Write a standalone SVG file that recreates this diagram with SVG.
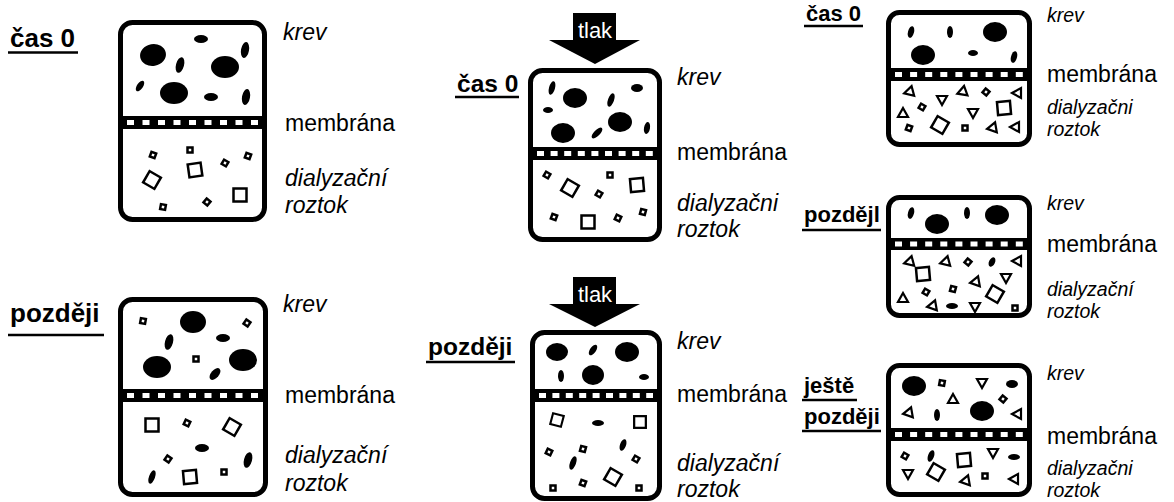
<svg xmlns="http://www.w3.org/2000/svg" xmlns:xlink="http://www.w3.org/1999/xlink" width="1174" height="502" viewBox="0 0 1174 502">
  <style>
    .box { fill: none; stroke: #000; stroke-width: 5; }
    .band { fill: #000; }
    .pores { stroke: #fff; stroke-width: 5; fill: none; }
    .cell { fill: #000; }
    .sol { fill: none; stroke: #000; stroke-width: 2.5; }
    .tri { fill: none; stroke: #000; stroke-width: 2.2; stroke-linejoin: miter; }
    .lbl { font-family: "Liberation Sans", Arial, sans-serif; font-size: 23px; fill: #000; }
    .it { font-style: italic; }
    .sm { font-size: 19.5px; }
    .hd { font-family: "Liberation Sans", Arial, sans-serif; font-size: 26px; font-weight: bold; fill: #000; }
    .hd2 { font-size: 24.5px; }
    .hd3 { font-size: 22px; }
    .ul { stroke: #000; stroke-width: 2.5; }
    .arrow { fill: #000; }
    .press { font-family: "Liberation Sans", Arial, sans-serif; font-size: 22px; fill: #fff; text-anchor: middle; }
  </style>
  <defs>
    <rect id="s" x="-2.5" y="-2.5" width="5" height="5"/>
    <rect id="m" x="-6.5" y="-6.5" width="13" height="13"/>
    <path id="t" d="M-5,0 L4,-5 L4,5 Z"/>
  </defs>

  <!-- top left: time 0, diffusion -->
  <g id="panel-diffusion-t0">
    <text class="hd" x="10" y="47">čas 0</text>
    <line class="ul" x1="8" y1="52.5" x2="78" y2="52.5"/>
    <rect class="box" x="120.5" y="22.5" width="144" height="197" rx="12"/>
    <rect class="band" x="120.5" y="116" width="144" height="13"/>
    <line class="pores" x1="127" y1="122.5" x2="258" y2="122.5" stroke-dasharray="7 8.5"/>
    <g class="cell">
      <ellipse cx="153" cy="55" rx="13" ry="11" transform="rotate(-10 153 55)"/>
      <ellipse cx="201" cy="39" rx="7" ry="4"/>
      <ellipse cx="180" cy="65" rx="4" ry="8" transform="rotate(15 180 65)"/>
      <ellipse cx="245" cy="50" rx="4" ry="8" transform="rotate(10 245 50)"/>
      <ellipse cx="225" cy="67" rx="14" ry="11"/>
      <ellipse cx="140" cy="86" rx="3" ry="6" transform="rotate(35 140 86)"/>
      <ellipse cx="174" cy="93" rx="14" ry="11"/>
      <ellipse cx="211" cy="97" rx="7" ry="4"/>
      <ellipse cx="246" cy="97" rx="4" ry="8" transform="rotate(10 246 97)"/>
    </g>
    <g class="sol">
      <use xlink:href="#s" transform="translate(190 150)"/>
      <use xlink:href="#s" transform="translate(153 155) rotate(20)"/>
      <use xlink:href="#s" transform="translate(248 156) rotate(20)"/>
      <use xlink:href="#m" transform="translate(195 170) rotate(-8)"/>
      <use xlink:href="#s" transform="translate(225 163) rotate(30)"/>
      <use xlink:href="#m" transform="translate(152 180) rotate(30)"/>
      <use xlink:href="#m" transform="translate(240 195)"/>
      <use xlink:href="#s" transform="translate(163 207) rotate(10)"/>
      <use xlink:href="#s" transform="translate(207 202) rotate(40)"/>
    </g>
    <text class="lbl it" x="283" y="40">krev</text>
    <text class="lbl" x="285" y="131">membrána</text>
    <text class="lbl it" x="285" y="186">dialyzační</text>
    <text class="lbl it" x="285" y="213">roztok</text>
  </g>

  <!-- bottom left: later, diffusion -->
  <g id="panel-diffusion-later">
    <text class="hd" x="10" y="322">později</text>
    <line class="ul" x1="8" y1="335" x2="104" y2="335"/>
    <rect class="box" x="120.5" y="299.5" width="145" height="195" rx="12"/>
    <rect class="band" x="120.5" y="389" width="145" height="13"/>
    <line class="pores" x1="127" y1="395.5" x2="258" y2="395.5" stroke-dasharray="7 8.5"/>
    <g class="cell">
      <ellipse cx="193" cy="322" rx="13" ry="11"/>
      <ellipse cx="169" cy="342" rx="4" ry="8" transform="rotate(15 169 342)"/>
      <ellipse cx="223" cy="338" rx="7" ry="4"/>
      <ellipse cx="157" cy="367" rx="14" ry="11"/>
      <ellipse cx="243" cy="360" rx="14" ry="11"/>
      <ellipse cx="215" cy="374" rx="4" ry="7" transform="rotate(40 215 374)"/>
      <ellipse cx="202" cy="448" rx="7" ry="4"/>
      <ellipse cx="248" cy="460" rx="4" ry="8" transform="rotate(15 248 460)"/>
      <ellipse cx="152" cy="477" rx="3" ry="7" transform="rotate(20 152 477)"/>
    </g>
    <g class="sol">
      <use xlink:href="#s" transform="translate(143 321) rotate(10)"/>
      <use xlink:href="#s" transform="translate(247 323) rotate(35)"/>
      <use xlink:href="#s" transform="translate(196 359)"/>
      <use xlink:href="#m" transform="translate(152 425)"/>
      <use xlink:href="#s" transform="translate(187 423) rotate(25)"/>
      <use xlink:href="#m" transform="translate(232 427) rotate(30)"/>
      <use xlink:href="#s" transform="translate(168 459) rotate(35)"/>
      <use xlink:href="#m" transform="translate(190 477) rotate(-5)"/>
      <use xlink:href="#s" transform="translate(224 472)"/>
    </g>
    <text class="lbl it" x="283" y="312">krev</text>
    <text class="lbl" x="285" y="403">membrána</text>
    <text class="lbl it" x="285" y="463">dialyzační</text>
    <text class="lbl it" x="285" y="491">roztok</text>
  </g>

  <!-- top middle: time 0, filtration under pressure -->
  <g id="panel-filtration-t0">
    <path class="arrow" d="M573,13 H616 V40 H640 L595,64 L549,40 H573 Z"/>
    <text class="press" x="595" y="38">tlak</text>
    <text class="hd hd2" x="457" y="92">čas 0</text>
    <line class="ul" x1="455" y1="97" x2="519" y2="97"/>
    <rect class="box" x="530.5" y="70.5" width="129" height="169" rx="12"/>
    <rect class="band" x="530.5" y="147" width="129" height="13"/>
    <line class="pores" x1="537" y1="153.5" x2="653" y2="153.5" stroke-dasharray="7 6.6"/>
    <g class="cell">
      <ellipse cx="552" cy="88" rx="3" ry="7" transform="rotate(15 552 88)"/>
      <ellipse cx="575" cy="98" rx="12" ry="10"/>
      <ellipse cx="611" cy="100" rx="3" ry="7" transform="rotate(20 611 100)"/>
      <ellipse cx="637" cy="88" rx="6" ry="4"/>
      <ellipse cx="548" cy="110" rx="5" ry="3"/>
      <ellipse cx="620" cy="122" rx="12" ry="10"/>
      <ellipse cx="563" cy="133" rx="12" ry="10"/>
      <ellipse cx="597" cy="133" rx="3" ry="7" transform="rotate(45 597 133)"/>
      <ellipse cx="647" cy="128" rx="3" ry="6" transform="rotate(10 647 128)"/>
    </g>
    <g class="sol">
      <use xlink:href="#s" transform="translate(547 175) rotate(30)"/>
      <use xlink:href="#m" transform="translate(570 188) rotate(30)"/>
      <use xlink:href="#s" transform="translate(610 175)"/>
      <use xlink:href="#m" transform="translate(637 185) rotate(-5)"/>
      <use xlink:href="#s" transform="translate(599 194) rotate(30)"/>
      <use xlink:href="#s" transform="translate(554 217) rotate(20)"/>
      <use xlink:href="#m" transform="translate(588 222)"/>
      <use xlink:href="#s" transform="translate(618 218) rotate(25)"/>
      <use xlink:href="#s" transform="translate(643 212) rotate(15)"/>
    </g>
    <text class="lbl it" x="677" y="85">krev</text>
    <text class="lbl" x="677" y="160">membrána</text>
    <text class="lbl it" x="677" y="211">dialyzačni</text>
    <text class="lbl it" x="677" y="237">roztok</text>
  </g>

  <!-- bottom middle: later, filtration under pressure -->
  <g id="panel-filtration-later">
    <path class="arrow" d="M573,277 H616 V304 H640 L595,327 L549,304 H573 Z"/>
    <text class="press" x="595" y="302">tlak</text>
    <text class="hd hd2" x="428" y="355">později</text>
    <line class="ul" x1="426" y1="362" x2="515" y2="362"/>
    <rect class="box" x="532.5" y="332.5" width="127" height="166" rx="12"/>
    <rect class="band" x="532.5" y="389" width="127" height="13"/>
    <line class="pores" x1="539" y1="395.5" x2="653" y2="395.5" stroke-dasharray="7 6.4"/>
    <g class="cell">
      <ellipse cx="557" cy="352" rx="11" ry="9"/>
      <ellipse cx="593" cy="350" rx="3" ry="6" transform="rotate(35 593 350)"/>
      <ellipse cx="627" cy="352" rx="12" ry="10"/>
      <ellipse cx="561" cy="376" rx="3" ry="6"/>
      <ellipse cx="593" cy="375" rx="11" ry="10"/>
      <ellipse cx="644" cy="377" rx="5" ry="3"/>
      <ellipse cx="598" cy="423" rx="6" ry="3"/>
      <ellipse cx="623" cy="445" rx="3" ry="6" transform="rotate(20 623 445)"/>
      <ellipse cx="573" cy="463" rx="3" ry="7" transform="rotate(20 573 463)"/>
    </g>
    <g class="sol">
      <use xlink:href="#m" transform="translate(557 420) rotate(15) scale(0.85)"/>
      <use xlink:href="#m" transform="translate(640 422) scale(0.9)"/>
      <use xlink:href="#s" transform="translate(549 452) rotate(25)"/>
      <use xlink:href="#s" transform="translate(583 449) rotate(15)"/>
      <use xlink:href="#s" transform="translate(636 459) rotate(30)"/>
      <use xlink:href="#m" transform="translate(613 477) rotate(30)"/>
      <use xlink:href="#s" transform="translate(553 488)"/>
      <use xlink:href="#s" transform="translate(583 483) rotate(20)"/>
      <use xlink:href="#s" transform="translate(639 488)"/>
    </g>
    <text class="lbl it" x="677" y="349">krev</text>
    <text class="lbl" x="677" y="402">membrána</text>
    <text class="lbl it" x="677" y="471">dialyzační</text>
    <text class="lbl it" x="677" y="497">roztok</text>
  </g>

  <!-- top right: time 0, two solutes -->
  <g id="panel-mixed-t0">
    <text class="hd hd3" x="806" y="21">čas 0</text>
    <line class="ul" x1="804" y1="26" x2="863" y2="26"/>
    <rect class="box" x="888.5" y="12.5" width="141" height="132" rx="11"/>
    <rect class="band" x="888.5" y="68" width="141" height="13"/>
    <line class="pores" x1="895" y1="74.5" x2="1023" y2="74.5" stroke-dasharray="7 8.1"/>
    <g class="cell">
      <ellipse cx="911" cy="32" rx="3" ry="6" transform="rotate(15 911 32)"/>
      <ellipse cx="950" cy="32" rx="3" ry="6"/>
      <ellipse cx="995" cy="32" rx="12" ry="10"/>
      <ellipse cx="923" cy="55" rx="12" ry="10"/>
      <ellipse cx="973" cy="53" rx="5" ry="3"/>
      <ellipse cx="1014" cy="57" rx="3" ry="6" transform="rotate(15 1014 57)"/>
    </g>
    <g class="tri">
      <use xlink:href="#t" transform="translate(909 92) rotate(-15)"/>
      <use xlink:href="#t" transform="translate(942 100) rotate(-90)"/>
      <use xlink:href="#t" transform="translate(962 92) rotate(-20)"/>
      <use xlink:href="#t" transform="translate(1017 93)"/>
      <use xlink:href="#t" transform="translate(903 113) rotate(90)"/>
      <use xlink:href="#t" transform="translate(973 113) rotate(-90)"/>
      <use xlink:href="#t" transform="translate(992 128) rotate(-10)"/>
      <use xlink:href="#t" transform="translate(1015 127)"/>
    </g>
    <g class="sol">
      <use xlink:href="#s" transform="translate(986 92) rotate(40)"/>
      <use xlink:href="#s" transform="translate(922 107) rotate(30)"/>
      <use xlink:href="#m" transform="translate(1004 108) rotate(-5)"/>
      <use xlink:href="#m" transform="translate(940 125) rotate(30)"/>
      <use xlink:href="#s" transform="translate(909 128) rotate(20)"/>
      <use xlink:href="#s" transform="translate(965 128)"/>
    </g>
    <text class="lbl it sm" x="1047" y="22">krev</text>
    <text class="lbl" x="1047" y="82">membrána</text>
    <text class="lbl it sm" x="1047" y="114">dialyzačni</text>
    <text class="lbl it sm" x="1047" y="136">roztok</text>
  </g>

  <!-- middle right: later, two solutes -->
  <g id="panel-mixed-later">
    <text class="hd hd3" x="804" y="222">pozdějl</text>
    <line class="ul" x1="802" y1="230" x2="881" y2="230"/>
    <rect class="box" x="888.5" y="197.5" width="141" height="118" rx="11"/>
    <rect class="band" x="888.5" y="238" width="141" height="12"/>
    <line class="pores" x1="895" y1="244" x2="1023" y2="244" stroke-dasharray="7 8.1"/>
    <g class="cell">
      <ellipse cx="911" cy="213" rx="3" ry="6" transform="rotate(15 911 213)"/>
      <ellipse cx="937" cy="224" rx="12" ry="10"/>
      <ellipse cx="967" cy="213" rx="3" ry="6"/>
      <ellipse cx="997" cy="215" rx="12" ry="10"/>
      <ellipse cx="992" cy="262" rx="3" ry="5" transform="rotate(25 992 262)"/>
      <ellipse cx="952" cy="306" rx="6" ry="3"/>
    </g>
    <g class="tri">
      <use xlink:href="#t" transform="translate(909 262) rotate(-15)"/>
      <use xlink:href="#t" transform="translate(945 262) rotate(-15)"/>
      <use xlink:href="#t" transform="translate(1017 261)"/>
      <use xlink:href="#t" transform="translate(1006 278) rotate(-90)"/>
      <use xlink:href="#t" transform="translate(975 282) rotate(-10)"/>
      <use xlink:href="#t" transform="translate(903 298) rotate(90)"/>
      <use xlink:href="#t" transform="translate(932 306) rotate(-10)"/>
      <use xlink:href="#t" transform="translate(975 307) rotate(-90)"/>
    </g>
    <g class="sol">
      <use xlink:href="#s" transform="translate(968 262) rotate(40)"/>
      <use xlink:href="#m" transform="translate(923 274) rotate(-5)"/>
      <use xlink:href="#s" transform="translate(926 292) rotate(30)"/>
      <use xlink:href="#s" transform="translate(953 289) rotate(15)"/>
      <use xlink:href="#m" transform="translate(995 294) rotate(30)"/>
      <use xlink:href="#s" transform="translate(1015 308)"/>
    </g>
    <text class="lbl it sm" x="1047" y="210">krev</text>
    <text class="lbl" x="1047" y="252">membrána</text>
    <text class="lbl it sm" x="1047" y="296">dialyzační</text>
    <text class="lbl it sm" x="1047" y="318">roztok</text>
  </g>

  <!-- bottom right: even later, two solutes -->
  <g id="panel-mixed-latest">
    <text class="hd hd3" x="804" y="393">ještě</text>
    <line class="ul" x1="802" y1="400" x2="857" y2="400"/>
    <text class="hd hd3" x="804" y="424">později</text>
    <line class="ul" x1="802" y1="431" x2="881" y2="431"/>
    <rect class="box" x="888.5" y="365.5" width="141" height="129" rx="11"/>
    <rect class="band" x="888.5" y="428" width="141" height="13"/>
    <line class="pores" x1="895" y1="434.5" x2="1023" y2="434.5" stroke-dasharray="7 8.1"/>
    <g class="cell">
      <ellipse cx="914" cy="386" rx="12" ry="10"/>
      <ellipse cx="1012" cy="384" rx="6" ry="4"/>
      <ellipse cx="937" cy="415" rx="3" ry="6"/>
      <ellipse cx="982" cy="411" rx="12" ry="10"/>
      <ellipse cx="931" cy="456" rx="3" ry="6" transform="rotate(20 931 456)"/>
      <ellipse cx="1014" cy="457" rx="6" ry="3"/>
    </g>
    <g class="tri">
      <use xlink:href="#t" transform="translate(982 383) rotate(-90)"/>
      <use xlink:href="#t" transform="translate(953 399) rotate(90)"/>
      <use xlink:href="#t" transform="translate(908 413) rotate(-10)"/>
      <use xlink:href="#t" transform="translate(1017 414)"/>
      <use xlink:href="#t" transform="translate(993 453) rotate(-90)"/>
      <use xlink:href="#t" transform="translate(908 474) rotate(-90)"/>
      <use xlink:href="#t" transform="translate(965 481) rotate(-10)"/>
      <use xlink:href="#t" transform="translate(1014 479)"/>
    </g>
    <g class="sol">
      <use xlink:href="#s" transform="translate(942 383) rotate(10)"/>
      <use xlink:href="#s" transform="translate(1003 399) rotate(40)"/>
      <use xlink:href="#s" transform="translate(905 456) rotate(30)"/>
      <use xlink:href="#m" transform="translate(964 460) rotate(-5)"/>
      <use xlink:href="#m" transform="translate(936 472) rotate(30)"/>
      <use xlink:href="#s" transform="translate(985 476)"/>
    </g>
    <text class="lbl it sm" x="1047" y="380">krev</text>
    <text class="lbl" x="1047" y="444">membrána</text>
    <text class="lbl it sm" x="1047" y="475">dialyzačni</text>
    <text class="lbl it sm" x="1047" y="497">roztok</text>
  </g>
</svg>
